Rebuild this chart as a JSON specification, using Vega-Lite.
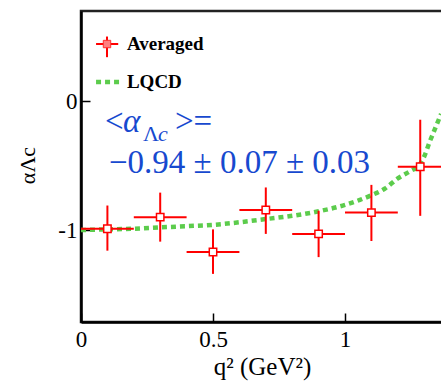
{
  "$schema": "https://vega.github.io/schema/vega-lite/v6.json",
  "width": 362,
  "height": 311,
  "autosize": {"type": "none"},
  "padding": {"left": 81, "top": 11, "right": 0, "bottom": 59},
  "background": "white",
  "config": {
    "font": "Liberation Serif",
    "view": {"stroke": "#222222", "strokeWidth": 2.5},
    "axis": {
      "grid": false,
      "domainColor": "black",
      "domainWidth": 2.5,
      "tickColor": "black",
      "tickWidth": 1.5,
      "tickSize": -9,
      "labelFlush": false,
      "labelFont": "Liberation Serif",
      "labelFontSize": 23,
      "labelColor": "black",
      "titleFont": "Liberation Serif",
      "titleColor": "black",
      "titleFontWeight": "normal"
    }
  },
  "datasets": {
    "measured": [
      {"q2": 0.1, "q2_lo": 0.0, "q2_hi": 0.2, "alpha": -0.99, "alpha_lo": -1.16, "alpha_hi": -0.81},
      {"q2": 0.3, "q2_lo": 0.2, "q2_hi": 0.4, "alpha": -0.90, "alpha_lo": -1.09, "alpha_hi": -0.71},
      {"q2": 0.5, "q2_lo": 0.4, "q2_hi": 0.6, "alpha": -1.17, "alpha_lo": -1.34, "alpha_hi": -0.995},
      {"q2": 0.7, "q2_lo": 0.6, "q2_hi": 0.8, "alpha": -0.845, "alpha_lo": -1.03, "alpha_hi": -0.67},
      {"q2": 0.9, "q2_lo": 0.8, "q2_hi": 1.0, "alpha": -1.03, "alpha_lo": -1.21, "alpha_hi": -0.85},
      {"q2": 1.1, "q2_lo": 1.0, "q2_hi": 1.2, "alpha": -0.865, "alpha_lo": -1.085, "alpha_hi": -0.65},
      {"q2": 1.285, "q2_lo": 1.2, "q2_hi": 1.37, "alpha": -0.51, "alpha_lo": -0.89, "alpha_hi": -0.145}
    ],
    "lqcd": [
      {"q2": 0.0, "alpha": -1.0},
      {"q2": 0.1, "alpha": -0.995},
      {"q2": 0.2, "alpha": -0.99},
      {"q2": 0.3, "alpha": -0.98},
      {"q2": 0.4, "alpha": -0.97},
      {"q2": 0.5, "alpha": -0.96},
      {"q2": 0.6, "alpha": -0.94},
      {"q2": 0.7, "alpha": -0.915},
      {"q2": 0.8, "alpha": -0.89},
      {"q2": 0.9, "alpha": -0.855},
      {"q2": 1.0, "alpha": -0.805},
      {"q2": 1.1, "alpha": -0.73},
      {"q2": 1.15, "alpha": -0.68},
      {"q2": 1.2, "alpha": -0.6},
      {"q2": 1.25, "alpha": -0.54},
      {"q2": 1.28, "alpha": -0.5},
      {"q2": 1.3, "alpha": -0.43},
      {"q2": 1.32, "alpha": -0.32},
      {"q2": 1.34, "alpha": -0.22},
      {"q2": 1.364, "alpha": -0.1}
    ]
  },
  "layer": [
    {
      "data": {"name": "lqcd"},
      "mark": {"type": "line", "color": "#5ccc4c", "strokeWidth": 4.5, "strokeDash": [5, 4], "interpolate": "monotone", "clip": true},
      "encoding": {
        "x": {
          "field": "q2", "type": "quantitative",
          "scale": {"domain": [0, 1.3712], "nice": false, "zero": false},
          "axis": {
            "values": [0, 0.5, 1], "format": "~g", "labelPadding": 15,
            "title": "q² (GeV²)", "titleFontSize": 25, "titleY": 52, "titleBaseline": "alphabetic"
          }
        },
        "y": {
          "field": "alpha", "type": "quantitative",
          "scale": {"domain": [-1.713, 0.698], "nice": false, "zero": false},
          "axis": {
            "values": [-1, 0], "labelExpr": "datum.value < 0 ? '-1' : '0'", "labelPadding": 13,
            "title": "αΛc", "titleFontSize": 22, "titleAngle": 270, "titleX": -47, "titleY": 154,
            "titleBaseline": "alphabetic", "titleAlign": "center"
          }
        }
      }
    },
    {
      "data": {"name": "measured"},
      "mark": {"type": "rule", "color": "#ff0000", "strokeWidth": 2},
      "encoding": {
        "x": {"field": "q2_lo", "type": "quantitative"},
        "x2": {"field": "q2_hi"},
        "y": {"field": "alpha", "type": "quantitative"}
      }
    },
    {
      "data": {"name": "measured"},
      "mark": {"type": "rule", "color": "#ff0000", "strokeWidth": 2},
      "encoding": {
        "x": {"field": "q2", "type": "quantitative"},
        "y": {"field": "alpha_lo", "type": "quantitative"},
        "y2": {"field": "alpha_hi"}
      }
    },
    {
      "data": {"name": "measured"},
      "mark": {"type": "point", "shape": "square", "filled": false, "fill": "white", "fillOpacity": 1, "stroke": "#ff0000", "strokeWidth": 1.5, "size": 55, "opacity": 1},
      "encoding": {
        "x": {"field": "q2", "type": "quantitative"},
        "y": {"field": "alpha", "type": "quantitative"}
      }
    },
    {
      "data": {"values": [{"label": "Averaged"}]},
      "mark": {"type": "rule", "color": "#ff0000", "strokeWidth": 2},
      "encoding": {"x": {"datum": 0.057}, "x2": {"datum": 0.141}, "y": {"datum": 0.442}}
    },
    {
      "data": {"values": [{"label": "Averaged"}]},
      "mark": {"type": "rule", "color": "#ff0000", "strokeWidth": 2},
      "encoding": {"x": {"datum": 0.0985}, "y": {"datum": 0.50}, "y2": {"datum": 0.34}}
    },
    {
      "data": {"values": [{"label": "Averaged"}]},
      "mark": {"type": "point", "shape": "square", "filled": true, "color": "#ff8080", "stroke": "#ff3030", "strokeWidth": 1, "size": 55, "opacity": 1},
      "encoding": {"x": {"datum": 0.0985}, "y": {"datum": 0.442}}
    },
    {
      "data": {"values": [{"label": "LQCD"}]},
      "mark": {"type": "rule", "color": "#5ccc4c", "strokeWidth": 4.5, "strokeDash": [5, 4]},
      "encoding": {"x": {"datum": 0.057}, "x2": {"datum": 0.152}, "y": {"datum": 0.147}}
    },
    {
      "data": {"values": [{"label": "Averaged", "y": 0.442}, {"label": "LQCD", "y": 0.147}]},
      "mark": {"type": "text", "font": "Liberation Serif", "fontWeight": "bold", "fontSize": 19, "align": "left", "baseline": "middle", "color": "black"},
      "encoding": {"x": {"datum": 0.174}, "y": {"field": "y", "type": "quantitative"}, "text": {"field": "label"}}
    },
    {
      "data": {"values": [{"label": "<"}]},
      "mark": {"type": "text", "font": "Liberation Serif", "fontSize": 33, "align": "left", "baseline": "alphabetic", "color": "#1749cf"},
      "encoding": {"x": {"datum": 0.0909}, "y": {"datum": -0.240}, "text": {"field": "label"}}
    },
    {
      "data": {"values": [{"label": "α"}]},
      "mark": {"type": "text", "font": "Liberation Serif", "fontStyle": "italic", "fontSize": 33, "align": "left", "baseline": "alphabetic", "color": "#1749cf"},
      "encoding": {"x": {"datum": 0.159}, "y": {"datum": -0.240}, "text": {"field": "label"}}
    },
    {
      "data": {"values": [{"label": "Λ"}]},
      "mark": {"type": "text", "font": "Liberation Serif", "fontSize": 22, "align": "left", "baseline": "alphabetic", "color": "#1749cf"},
      "encoding": {"x": {"datum": 0.235}, "y": {"datum": -0.310}, "text": {"field": "label"}}
    },
    {
      "data": {"values": [{"label": "c"}]},
      "mark": {"type": "text", "font": "Liberation Serif", "fontStyle": "italic", "fontSize": 22, "align": "left", "baseline": "alphabetic", "color": "#1749cf"},
      "encoding": {"x": {"datum": 0.2917}, "y": {"datum": -0.310}, "text": {"field": "label"}}
    },
    {
      "data": {"values": [{"label": ">="}]},
      "mark": {"type": "text", "font": "Liberation Serif", "fontSize": 33, "align": "left", "baseline": "alphabetic", "color": "#1749cf"},
      "encoding": {"x": {"datum": 0.356}, "y": {"datum": -0.240}, "text": {"field": "label"}}
    },
    {
      "data": {"values": [{"label": "−0.94 ± 0.07 ± 0.03"}]},
      "mark": {"type": "text", "font": "Liberation Serif", "fontSize": 33, "align": "left", "baseline": "alphabetic", "color": "#1749cf"},
      "encoding": {"x": {"datum": 0.106}, "y": {"datum": -0.558}, "text": {"field": "label"}}
    }
  ]
}
